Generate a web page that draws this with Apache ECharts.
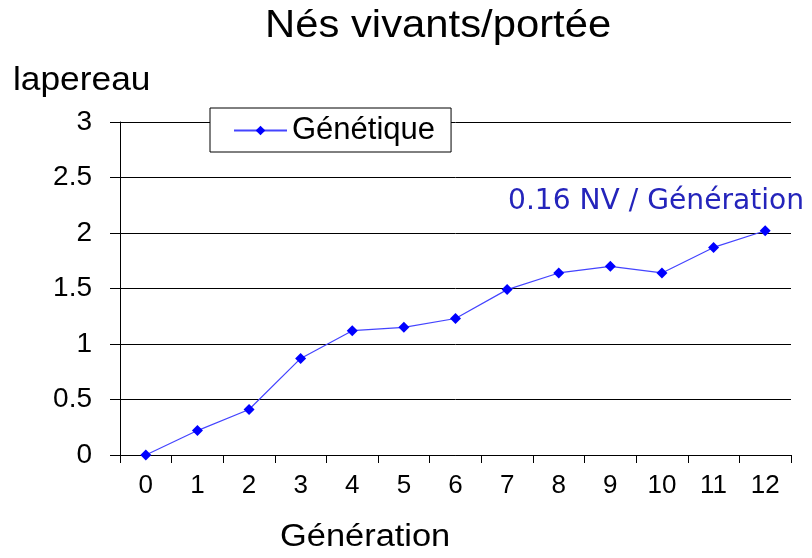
<!DOCTYPE html>
<html>
<head>
<meta charset="utf-8">
<script src="https://cdn.jsdelivr.net/npm/echarts@6/dist/echarts.min.js"></script>
<style>html,body{margin:0;padding:0;background:#fff}#c{width:812px;height:558px}</style>
</head>
<body>
<div id="c"></div>
<script>
const titleText = 'Nés vivants/portée';
const yAxisTitle = 'lapereau';
const xAxisTitle = 'Génération';
const seriesName = 'Génétique';
const annotationText = '0.16 NV / Génération';
const categories = ['0','1','2','3','4','5','6','7','8','9','10','11','12'];
const values = [0, 0.22, 0.41, 0.87, 1.12, 1.15, 1.23, 1.49, 1.64, 1.70, 1.64, 1.87, 2.02];

const chart = echarts.init(document.getElementById('c'), null, {renderer: 'canvas'});
const F = 'Liberation Sans, Arial, sans-serif';
chart.setOption({
  animation: false,
  backgroundColor: '#fff',
  grid: {left: 120, right: 21, top: 122, bottom: 103, containLabel: false},
  xAxis: {
    type: 'category', data: categories, boundaryGap: true,
    axisLine: {show: true, lineStyle: {color: '#000', width: 1}},
    axisTick: {show: true, length: 8, inside: false, alignWithLabel: false, lineStyle: {color: '#000'}},
    axisLabel: {color: '#000', fontFamily: F, fontSize: 26, margin: 18, interval: 0},
    splitLine: {show: false}
  },
  yAxis: {
    type: 'value', min: 0, max: 3, interval: 0.5,
    axisLine: {show: true, lineStyle: {color: '#000', width: 1}},
    axisTick: {show: true, length: 10, lineStyle: {color: '#000'}},
    axisLabel: {color: '#000', fontFamily: F, fontSize: 28, margin: 28},
    splitLine: {show: true, lineStyle: {color: '#000', width: 1}}
  },
  legend: {
    show: true, left: 210, top: 108,
    backgroundColor: '#fff', borderColor: '#000', borderWidth: 1,
    padding: [7, 16, 6, 23], itemWidth: 53, itemHeight: 12,
    textStyle: {color: '#000', fontFamily: F, fontSize: 31},
    z: 10
  },
  graphic: [
    {type: 'text', left: 265, top: 8, scaleX: 1.1, style: {text: titleText, font: '38px ' + F, fill: '#000'}},
    {type: 'text', left: 13, top: 64, scaleX: 1.07, style: {text: yAxisTitle, font: '33px ' + F, fill: '#000'}},
    {type: 'text', left: 280, top: 522, scaleX: 1.11, style: {text: xAxisTitle, font: '31px ' + F, fill: '#000'}},
    {type: 'text', left: 508, top: 187, z: 20, scaleX: 0.97, style: {text: annotationText, font: '29px DejaVu Sans, Verdana, sans-serif', fill: '#2424bb'}}
  ],
  series: [{
    name: seriesName, type: 'line', data: values,
    symbol: 'diamond', symbolSize: 11,
    itemStyle: {color: '#0000ff'},
    lineStyle: {color: '#4444ff', width: 1.2}
  }]
});
</script>
</body>
</html>
